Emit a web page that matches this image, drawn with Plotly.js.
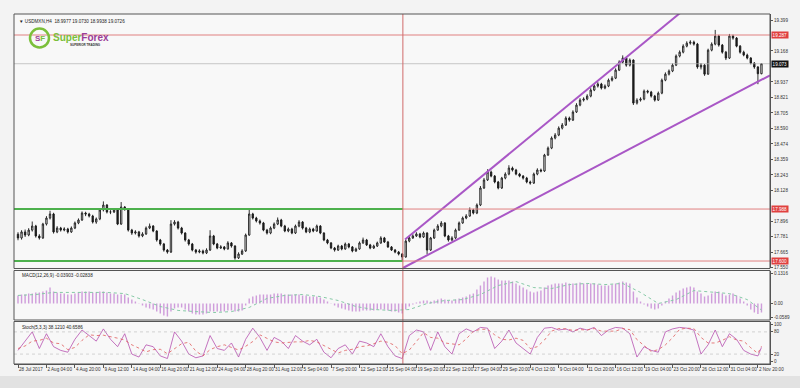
<!DOCTYPE html>
<html><head><meta charset="utf-8">
<script src="https://cdn.plot.ly/plotly-3.0.1.min.js"></script>
<style>html,body{margin:0;padding:0;background:#f3f3f3}#chart{width:800px;height:388px}</style>
</head><body><div id="chart"></div>
<script>
// ---- price data (H4 bars, 2 bars per candle) ----
const FIRST_OPEN = 17.800;
const CLOSE = [
17.772,17.817,17.794,17.831,17.861,17.787,17.772,17.876,17.921,17.951,
17.817,17.846,17.831,17.839,17.817,17.846,17.884,17.906,17.958,17.951,
17.936,17.891,17.914,17.981,18.018,17.966,17.966,17.981,17.876,18.003,
17.988,17.831,17.809,17.817,17.787,17.802,17.846,17.861,17.824,17.757,
17.727,17.682,17.667,17.876,17.891,17.846,17.809,17.757,17.727,17.682,
17.667,17.675,17.660,17.682,17.787,17.727,17.697,17.705,17.690,17.735,
17.712,17.623,17.652,17.675,17.794,17.951,17.921,17.899,17.884,17.831,
17.809,17.846,17.876,17.906,17.861,17.824,17.839,17.809,17.861,17.891,
17.846,17.817,17.839,17.824,17.861,17.809,17.757,17.735,17.697,17.682,
17.712,17.690,17.727,17.705,17.675,17.690,17.735,17.757,17.720,17.697,
17.712,17.735,17.772,17.742,17.705,17.682,17.667,17.652,17.630,17.749,
17.772,17.787,17.802,17.779,17.809,17.682,17.772,17.831,17.861,17.884,
17.787,17.757,17.772,17.831,17.884,17.921,17.936,17.981,17.958,18.018,
18.145,18.205,18.264,18.234,18.190,18.145,18.219,18.249,18.294,18.279,
18.249,18.234,18.219,18.190,18.182,18.249,18.279,18.272,18.391,18.443,
18.518,18.540,18.592,18.615,18.667,18.652,18.712,18.764,18.801,18.809,
18.831,18.876,18.906,18.921,18.891,18.906,18.950,18.965,19.025,19.085,
19.115,19.062,19.100,18.779,18.801,18.809,18.868,18.861,18.831,18.801,
18.853,18.950,18.995,19.018,19.062,19.130,19.159,19.204,19.226,19.234,
19.219,19.048,19.062,18.995,19.174,19.219,19.279,19.212,19.159,19.115,
19.279,19.264,19.204,19.159,19.137,19.115,19.077,19.048,18.998,19.073];
const HIGH = [
17.815,17.830,17.835,17.845,17.895,17.870,17.800,17.885,17.935,17.975,
17.960,17.860,17.855,17.852,17.848,17.858,17.895,17.918,17.970,17.968,
17.960,17.945,17.925,17.990,18.045,18.025,17.980,17.995,17.990,18.040,
18.010,17.995,17.840,17.830,17.825,17.815,17.858,17.880,17.868,17.830,
17.765,17.735,17.690,17.905,17.905,17.900,17.855,17.815,17.765,17.735,
17.690,17.688,17.685,17.695,17.830,17.795,17.735,17.718,17.712,17.748,
17.742,17.718,17.665,17.688,17.805,17.985,17.960,17.930,17.910,17.892,
17.840,17.858,17.888,17.925,17.915,17.870,17.850,17.848,17.872,17.905,
17.898,17.855,17.850,17.848,17.872,17.868,17.815,17.765,17.742,17.705,
17.722,17.720,17.738,17.735,17.712,17.700,17.746,17.775,17.765,17.728,
17.722,17.745,17.785,17.780,17.750,17.712,17.690,17.675,17.660,17.760,
17.785,17.800,17.815,17.810,17.820,17.815,17.780,17.842,17.875,17.898,
17.890,17.795,17.785,17.842,17.895,17.932,17.950,18.000,17.990,18.030,
18.160,18.220,18.285,18.275,18.242,18.198,18.228,18.262,18.315,18.305,
18.288,18.258,18.242,18.228,18.200,18.260,18.292,18.290,18.400,18.455,
18.530,18.555,18.605,18.630,18.680,18.678,18.725,18.778,18.815,18.822,
18.845,18.890,18.918,18.935,18.930,18.918,18.962,18.980,19.038,19.098,
19.135,19.122,19.112,19.105,18.815,18.822,18.880,18.878,18.870,18.840,
18.865,18.962,19.008,19.030,19.075,19.142,19.172,19.218,19.240,19.248,
19.245,19.228,19.078,19.070,19.185,19.232,19.325,19.288,19.220,19.168,
19.295,19.290,19.272,19.212,19.170,19.148,19.122,19.085,19.055,19.073];
const LOW = [
17.755,17.760,17.780,17.785,17.820,17.775,17.760,17.765,17.865,17.910,
17.805,17.808,17.820,17.822,17.805,17.810,17.838,17.875,17.900,17.935,
17.925,17.880,17.878,17.905,17.970,17.955,17.950,17.958,17.868,17.870,
17.975,17.820,17.795,17.798,17.775,17.778,17.795,17.838,17.815,17.745,
17.715,17.670,17.655,17.660,17.865,17.835,17.798,17.745,17.715,17.672,
17.655,17.658,17.650,17.652,17.675,17.718,17.688,17.690,17.680,17.685,
17.700,17.610,17.615,17.645,17.668,17.788,17.910,17.888,17.872,17.822,
17.798,17.800,17.838,17.868,17.852,17.815,17.815,17.800,17.802,17.852,
17.835,17.808,17.808,17.815,17.818,17.800,17.748,17.725,17.688,17.670,
17.675,17.680,17.684,17.695,17.665,17.668,17.684,17.728,17.712,17.688,
17.690,17.705,17.728,17.735,17.698,17.675,17.658,17.642,17.600,17.625,
17.740,17.765,17.780,17.770,17.772,17.650,17.675,17.765,17.825,17.852,
17.778,17.745,17.748,17.765,17.825,17.878,17.912,17.930,17.948,17.950,
18.010,18.138,18.198,18.225,18.180,18.135,18.138,18.210,18.240,18.268,
18.240,18.225,18.208,18.180,18.170,18.175,18.240,18.262,18.265,18.385,
18.435,18.508,18.532,18.582,18.608,18.640,18.645,18.705,18.755,18.790,
18.800,18.822,18.868,18.895,18.880,18.882,18.898,18.940,18.958,19.018,
19.075,19.050,19.052,18.765,18.768,18.790,18.800,18.850,18.820,18.790,
18.795,18.845,18.942,18.985,19.010,19.055,19.120,19.150,19.195,19.215,
19.208,19.035,19.030,18.982,18.990,19.165,19.210,19.200,19.148,19.100,
19.108,19.252,19.195,19.148,19.128,19.105,19.068,19.035,18.920,18.994];

// ---- MACD(12,26,9) ----
const MACD_HIST = [
0.035,0.039,0.039,0.043,0.043,0.048,0.048,0.052,0.056,0.069,
0.052,0.048,0.043,0.043,0.039,0.039,0.043,0.048,0.052,0.052,0.052,
0.048,0.048,0.052,0.052,0.048,0.043,0.043,0.039,0.039,0.039,
0.026,0.017,0.009,0.001,-0.009,-0.017,-0.022,-0.026,-0.035,-0.043,
-0.052,-0.056,-0.035,-0.022,-0.017,-0.017,-0.026,-0.035,-0.043,-0.048,
-0.048,-0.048,-0.043,-0.035,-0.035,-0.035,-0.035,-0.035,-0.030,-0.030,
-0.035,-0.035,-0.030,-0.009,0.022,0.030,0.035,0.039,0.039,0.039,
0.039,0.043,0.043,0.043,0.039,0.039,0.039,0.039,0.039,0.035,
0.035,0.030,0.030,0.030,0.026,0.017,0.009,0.001,-0.009,-0.017,
-0.022,-0.026,-0.030,-0.035,-0.035,-0.035,-0.030,-0.030,-0.030,-0.030,
-0.026,-0.026,-0.026,-0.030,-0.035,-0.035,-0.039,-0.043,-0.026,-0.013,
-0.004,0.004,0.009,0.013,0.013,0.009,0.013,0.017,0.022,0.017,
0.013,0.013,0.017,0.022,0.026,0.030,0.039,0.043,0.061,0.078,0.095,
0.113,0.117,0.113,0.104,0.100,0.100,0.100,0.095,0.087,0.078,
0.069,0.061,0.052,0.048,0.052,0.056,0.069,0.078,0.082,0.087,
0.087,0.087,0.091,0.087,0.087,0.087,0.091,0.087,0.087,0.087,
0.087,0.082,0.078,0.078,0.078,0.082,0.087,0.091,0.095,0.091,
0.087,0.052,0.026,0.009,-0.004,-0.013,-0.022,-0.026,-0.022,-0.009,
0.009,0.022,0.035,0.048,0.056,0.065,0.069,0.074,0.069,0.052,
0.043,0.030,0.035,0.043,0.052,0.052,0.043,0.035,0.039,0.043,
0.035,0.022,0.009,-0.009,-0.026,-0.039,-0.045,-0.039];
const MACD_SIG_X = [0,5,10,15,20,25,30,35,40,45,50,55,60,65,70,75,80,85,90,95,100,105,110,115,120,125,130,135,140,145,150,155,160,165,170,175,180,185,190,195,200,205,209];
const MACD_SIG = [0.035,0.039,0.048,0.048,0.048,0.048,0.043,0.017,-0.013,-0.030,-0.035,-0.039,-0.035,-0.017,0.022,0.035,0.039,0.030,0.013,-0.013,-0.026,-0.030,-0.026,0.000,0.013,0.017,0.039,0.078,0.095,0.069,0.065,0.082,0.087,0.082,0.087,0.048,0.000,0.017,0.056,0.048,0.043,0.017,-0.028];

// ---- Stochastic(5,3,3) ----
const STOCH_X = [0,2,4,6,8,10,12,14,16,18,20,22,24,26,28,30,32,34,36,38,40,42,44,46,48,50,52,54,56,58,60,62,64,66,68,70,72,74,76,78,80,82,84,86,88,90,92,94,96,98,100,102,104,106,108,110,112,114,116,118,120,122,124,126,128,130,132,134,136,138,140,142,144,146,148,150,152,154,156,158,160,162,164,166,168,170,172,174,176,178,180,182,184,186,188,190,192,194,196,198,200,202,204,206,208,209];
const STOCH_MAIN = [
30,55,80,35,75,40,30,25,60,85,
70,55,88,60,40,75,20,12,45,40,
15,8,80,55,20,10,15,70,35,30,
50,12,60,90,65,30,65,55,35,70,
55,45,60,25,10,35,45,20,55,50,
40,75,40,15,8,70,85,80,30,80,
40,20,75,88,80,92,90,35,55,85,
50,35,20,65,90,92,85,88,80,90,
85,92,70,85,92,90,75,12,40,30,
25,80,88,92,90,85,20,45,85,40,
75,60,30,20,15,38];
const STOCH_SIG = [
35,42,55,57,63,50,48,32,38,57,
72,70,71,68,63,58,45,36,26,32,
33,21,34,48,52,28,15,32,40,45,
38,31,41,54,72,62,53,50,52,53,
53,57,53,43,32,23,30,33,40,42,
48,55,52,43,21,31,54,78,65,63,
50,47,45,61,81,87,87,72,60,58,
63,57,35,40,58,82,89,88,84,86,
85,89,82,82,82,89,86,59,42,27,
32,45,64,87,90,89,65,50,50,57,
67,58,55,37,22,41];

// ---- axis labels ----
const TICK_IDX = [0,8,16,24,32,40,48,56,64,72,80,88,96,104,112,120,128,136,144,152,160,168,176,184,192,200,208];
const TICK_TEXT = ["28 Jul 2017","2 Aug 04:00","4 Aug 20:00","9 Aug 12:00","14 Aug 04:00","16 Aug 20:00","21 Aug 12:00","24 Aug 04:00","28 Aug 20:00","31 Aug 12:00","5 Sep 04:00","7 Sep 20:00","12 Sep 12:00","15 Sep 04:00","19 Sep 20:00","22 Sep 12:00","27 Sep 04:00","29 Sep 20:00","4 Oct 12:00","9 Oct 04:00","11 Oct 20:00","16 Oct 12:00","19 Oct 04:00","23 Oct 20:00","26 Oct 12:00","31 Oct 04:00","2 Nov 20:00"];
const PRICE_TICKS = [19.399,19.168,18.937,18.821,18.705,18.590,18.474,18.359,18.243,18.128,17.896,17.781,17.665,17.550];
const MACD_TICKS = [0.1316,0,-0.0589];
const MACD_TICK_TEXT = ["0.1316","0.00","-0.0589"];
const STOCH_TICKS = [100,80,20,0];

// ---- drawn objects ----
const RED_LEVELS = [19.287, 17.988, 17.600];
const GREEN_LEVELS = [17.988, 17.600];
const SPLIT_IDX = 108.2;
const CUR_PRICE = 19.0726;
const CH_UP_X = [108.8, 186.1], CH_UP_Y = [17.760, 19.451];
const CH_LO_X = [108.2, 211.4], CH_LO_Y = [17.548, 18.986];

const IDX = CLOSE.map((_, i) => i);
const OPEN = CLOSE.map((c, i) => i === 0 ? FIRST_OPEN : CLOSE[i - 1]);

const F = 'Liberation Sans, Arial, sans-serif';
const px2x = px => (px - 14) / 756;
const px2y = py => (364 - py) / 350;

const traces = [
  {type:'candlestick', x:IDX, open:OPEN, high:HIGH, low:LOW, close:CLOSE, xaxis:'x', yaxis:'y',
   increasing:{line:{color:'#1a1a1a', width:0.9}, fillcolor:'#ffffff'},
   decreasing:{line:{color:'#1a1a1a', width:0.9}, fillcolor:'#1a1a1a'},
   whiskerwidth:0, hoverinfo:'skip', showlegend:false},
  {type:'scatter', mode:'lines', x:CH_UP_X, y:CH_UP_Y, xaxis:'x', yaxis:'y', line:{color:'#a957c6', width:2}, hoverinfo:'skip', showlegend:false},
  {type:'scatter', mode:'lines', x:CH_LO_X, y:CH_LO_Y, xaxis:'x', yaxis:'y', line:{color:'#a957c6', width:2}, hoverinfo:'skip', showlegend:false},
  {type:'bar', x:IDX, y:MACD_HIST, xaxis:'x', yaxis:'y2', width:0.4, marker:{color:'#cf9ddb', line:{width:0}}, hoverinfo:'skip', showlegend:false},
  {type:'scatter', mode:'lines', x:MACD_SIG_X, y:MACD_SIG, xaxis:'x', yaxis:'y2', line:{color:'#86c9a6', width:1, dash:'dot'}, hoverinfo:'skip', showlegend:false},
  {type:'scatter', mode:'lines', x:STOCH_X, y:STOCH_MAIN, xaxis:'x', yaxis:'y3', line:{color:'#b650b0', width:0.8}, hoverinfo:'skip', showlegend:false},
  {type:'scatter', mode:'lines', x:STOCH_X, y:STOCH_SIG, xaxis:'x', yaxis:'y3', line:{color:'#e05a5a', width:0.8, dash:'dot'}, hoverinfo:'skip', showlegend:false}
];

const shapes = [];
shapes.push({type:'rect', xref:'paper', yref:'paper', x0:px2x(0), x1:px2x(800), y0:px2y(388), y1:px2y(376), fillcolor:'#e2e2e2', line:{width:0}, layer:'below'});
shapes.push({type:'line', xref:'paper', yref:'y', x0:0, x1:1, y0:RED_LEVELS[0], y1:RED_LEVELS[0], line:{color:'#e08080', width:1}});
shapes.push({type:'line', xref:'paper', yref:'y', x0:0, x1:1, y0:CUR_PRICE, y1:CUR_PRICE, line:{color:'#b0b0b0', width:0.7}});
for (let k = 1; k < RED_LEVELS.length; k++) {
  shapes.push({type:'line', xref:'x', yref:'y', x0:SPLIT_IDX, x1:211.4, y0:RED_LEVELS[k], y1:RED_LEVELS[k], line:{color:'#e08080', width:1}});
}
GREEN_LEVELS.forEach(v => shapes.push({type:'line', xref:'x', yref:'y', x0:-1.125, x1:SPLIT_IDX, y0:v, y1:v, line:{color:'#4db14d', width:2}}));
[20, 80].forEach(v => shapes.push({type:'line', xref:'paper', yref:'y3', x0:0, x1:1, y0:v, y1:v, line:{color:'#b8b8b8', width:0.6, dash:'dot'}}));
shapes.push({type:'line', xref:'x', yref:'paper', x0:SPLIT_IDX, x1:SPLIT_IDX, y0:0, y1:1, line:{color:'#d06a6a', width:1}});
[[0.2729,1],[0.1257,0.2671],[0,0.1214]].forEach(d => shapes.push({type:'rect', xref:'paper', yref:'paper', x0:0, x1:1, y0:d[0], y1:d[1], line:{color:'#555', width:1}, fillcolor:'rgba(0,0,0,0)'}));
shapes.push({type:'circle', xref:'paper', yref:'paper', x0:px2x(30), x1:px2x(49), y0:px2y(47.5), y1:px2y(28.5), line:{color:'#7bbf3a', width:2.5}});

const ann = [
  {xref:'paper', yref:'paper', x:px2x(17), y:px2y(21), xanchor:'left', yanchor:'middle', showarrow:false,
   text:'▼ USDMXN,H4  18.9977 19.0730 18.9938 19.0726', font:{family:F, size:4.6, color:'#222'}},
  {xref:'paper', yref:'paper', x:px2x(20), y:px2y(275), xanchor:'left', yanchor:'middle', showarrow:false,
   text:'MACD(12,26,9) -0.03903 -0.02838', font:{family:F, size:4.6, color:'#222'}},
  {xref:'paper', yref:'paper', x:px2x(20), y:px2y(327), xanchor:'left', yanchor:'middle', showarrow:false,
   text:'Stoch(5,3,3) 38.1210 40.6586', font:{family:F, size:4.6, color:'#222'}},
  {xref:'paper', yref:'paper', x:px2x(39.5), y:px2y(38), xanchor:'center', yanchor:'middle', showarrow:false,
   text:'<b><span style="color:#9b3d97">S</span><span style="color:#7bbf3a">F</span></b>', font:{family:F, size:8}},
  {xref:'paper', yref:'paper', x:px2x(51), y:px2y(37), xanchor:'left', yanchor:'middle', showarrow:false,
   text:'<b><span style="color:#7bbf3a">Super</span><span style="color:#9b3d97">Forex</span></b>', font:{family:F, size:10}},
  {xref:'paper', yref:'paper', x:px2x(68), y:px2y(45.5), xanchor:'left', yanchor:'middle', showarrow:false,
   text:'<b>SUPERIOR TRADING</b>', font:{family:F, size:3, color:'#333'}}
];
RED_LEVELS.forEach(v => ann.push({xref:'paper', yref:'y', x:px2x(771), y:v, xanchor:'left', yanchor:'middle', showarrow:false,
  text:v.toFixed(3), bgcolor:'#e0403f', borderpad:0.6, font:{family:F, size:4.6, color:'#ffffff'}}));
ann.push({xref:'paper', yref:'y', x:px2x(771), y:CUR_PRICE, xanchor:'left', yanchor:'middle', showarrow:false,
  text:CUR_PRICE.toFixed(3), bgcolor:'#111111', borderpad:0.6, font:{family:F, size:4.6, color:'#ffffff'}});

const yBase = {side:'right', anchor:'x', showgrid:false, zeroline:false, ticks:'outside', ticklen:2, tickcolor:'#555',
  tickfont:{family:F, size:4.6, color:'#333'}, showline:true, linecolor:'#555', linewidth:1, fixedrange:true};

const layout = {
  width:800, height:388,
  margin:{l:14, r:30, t:14, b:24, pad:0},
  paper_bgcolor:'#f3f3f3', plot_bgcolor:'#f8f8f8',
  showlegend:false, boxgap:0.45,
  xaxis:{domain:[0,1], anchor:'y3', range:[-1.125, 211.4], showgrid:false, zeroline:false,
    tickmode:'array', tickvals:TICK_IDX, ticktext:TICK_TEXT, ticks:'outside', ticklen:3, tickcolor:'#555',
    tickangle:0, ticklabelposition:'outside right', tickfont:{family:F, size:4.6, color:'#333'},
    showline:true, linecolor:'#555', rangeslider:{visible:false}, fixedrange:true},
  yaxis:Object.assign({}, yBase, {domain:[0.2729,1], range:[17.5443,19.4438], tickmode:'array',
    tickvals:PRICE_TICKS, ticktext:PRICE_TICKS.map(v => v.toFixed(3))}),
  yaxis2:Object.assign({}, yBase, {domain:[0.1257,0.2671], range:[-0.0714,0.1429], tickmode:'array',
    tickvals:MACD_TICKS, ticktext:MACD_TICK_TEXT}),
  yaxis3:Object.assign({}, yBase, {domain:[0,0.1214], range:[-6.8,108], tickmode:'array',
    tickvals:STOCH_TICKS, ticktext:STOCH_TICKS.map(String)}),
  shapes:shapes, annotations:ann
};

Plotly.newPlot('chart', traces, layout, {displayModeBar:false, staticPlot:true});
</script></body></html>
